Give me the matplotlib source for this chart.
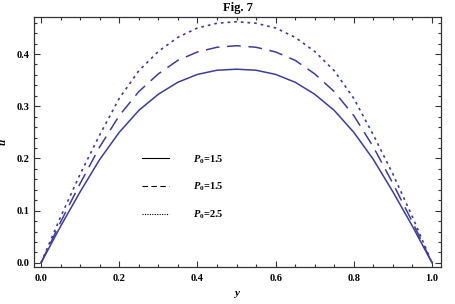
import matplotlib
matplotlib.use("Agg")
import matplotlib.pyplot as plt
from matplotlib.ticker import MultipleLocator
from matplotlib.lines import Line2D

plt.rcParams['font.family'] = ['Liberation Serif', 'DejaVu Serif']
plt.rcParams['font.weight'] = 'bold'
plt.rcParams['mathtext.fontset'] = 'custom'
plt.rcParams['mathtext.rm'] = 'Liberation Serif:bold'
plt.rcParams['mathtext.it'] = 'Liberation Serif:italic:bold'

y_vals = [0.0, 0.05, 0.1, 0.15, 0.2, 0.25, 0.3, 0.35, 0.4, 0.45, 0.5,
          0.55, 0.6, 0.65, 0.7, 0.75, 0.8, 0.85, 0.9, 0.95, 1.0]
u_solid = [0.0, 0.070, 0.136, 0.198, 0.250, 0.292, 0.323, 0.346, 0.361, 0.369, 0.371,
           0.369, 0.361, 0.346, 0.323, 0.292, 0.250, 0.198, 0.136, 0.070, 0.0]
u_dashed = [0.0, 0.078, 0.152, 0.222, 0.282, 0.328, 0.362, 0.388, 0.404, 0.413, 0.416,
            0.413, 0.404, 0.388, 0.362, 0.328, 0.282, 0.222, 0.152, 0.078, 0.0]
u_dotted = [0.0, 0.088, 0.170, 0.245, 0.315, 0.368, 0.405, 0.432, 0.450, 0.459, 0.462,
            0.459, 0.450, 0.432, 0.405, 0.368, 0.315, 0.245, 0.170, 0.088, 0.0]
labels = [r'$P_0$=1.5', r'$P_0$=1.5', r'$P_0$=2.5']
x_ticks = [0.0, 0.2, 0.4, 0.6, 0.8, 1.0]
y_ticks = [0.0, 0.1, 0.2, 0.3, 0.4]

color = '#3d3d99'
fig = plt.figure(figsize=(4.55, 3.04), dpi=100)
ax = fig.add_axes([34/455, 37/304, 407/455, 250/304])

l1, = ax.plot(y_vals, u_solid, color=color, lw=1.1)
l2, = ax.plot(y_vals, u_dashed, color=color, lw=1.1, dashes=(9, 5))
l3, = ax.plot(y_vals, u_dotted, color=color, lw=1.2, dashes=(1.6, 2.4))

h1 = Line2D([], [], color='black', lw=0.8)
h2 = Line2D([], [], color='black', lw=0.8, dashes=(5, 3))
h3 = Line2D([], [], color='black', lw=0.8, dashes=(1, 1.2))
ax.legend([h1, h2, h3], labels, loc='center left', bbox_to_anchor=(0.265, 0.32),
          frameon=False, handlelength=2.6, handletextpad=2.3, labelspacing=1.45,
          borderpad=0, borderaxespad=0, fontsize=7.5)

ax.set_xlim(-0.018, 1.023)
ax.set_ylim(-0.008, 0.471)
ax.set_xticks(x_ticks)
ax.set_yticks(y_ticks)
ax.xaxis.set_minor_locator(MultipleLocator(0.05))
ax.yaxis.set_minor_locator(MultipleLocator(0.02))
ax.set_xticklabels([f'{v:.1f}' for v in x_ticks])
ax.set_yticklabels([f'{v:.1f}' for v in y_ticks])
ax.tick_params(which='both', direction='in', top=True, right=True, colors='#333333',
               labelcolor='black', labelsize=7.5, width=0.8)
ax.tick_params(which='major', length=4)
ax.tick_params(which='minor', length=2.5)
ax.tick_params(axis='x', pad=5)
ax.tick_params(axis='y', pad=3.5)
for s in ax.spines.values():
    s.set_color('#333333')
    s.set_linewidth(0.9)

ax.set_xlabel(r'$y$', fontsize=8, labelpad=4)
ax.set_ylabel(r'$u$', fontsize=8, labelpad=6)
ax.set_title('Fig. 7', fontsize=9, fontweight='bold', pad=4)

fig.savefig('out.png', dpi=100)
